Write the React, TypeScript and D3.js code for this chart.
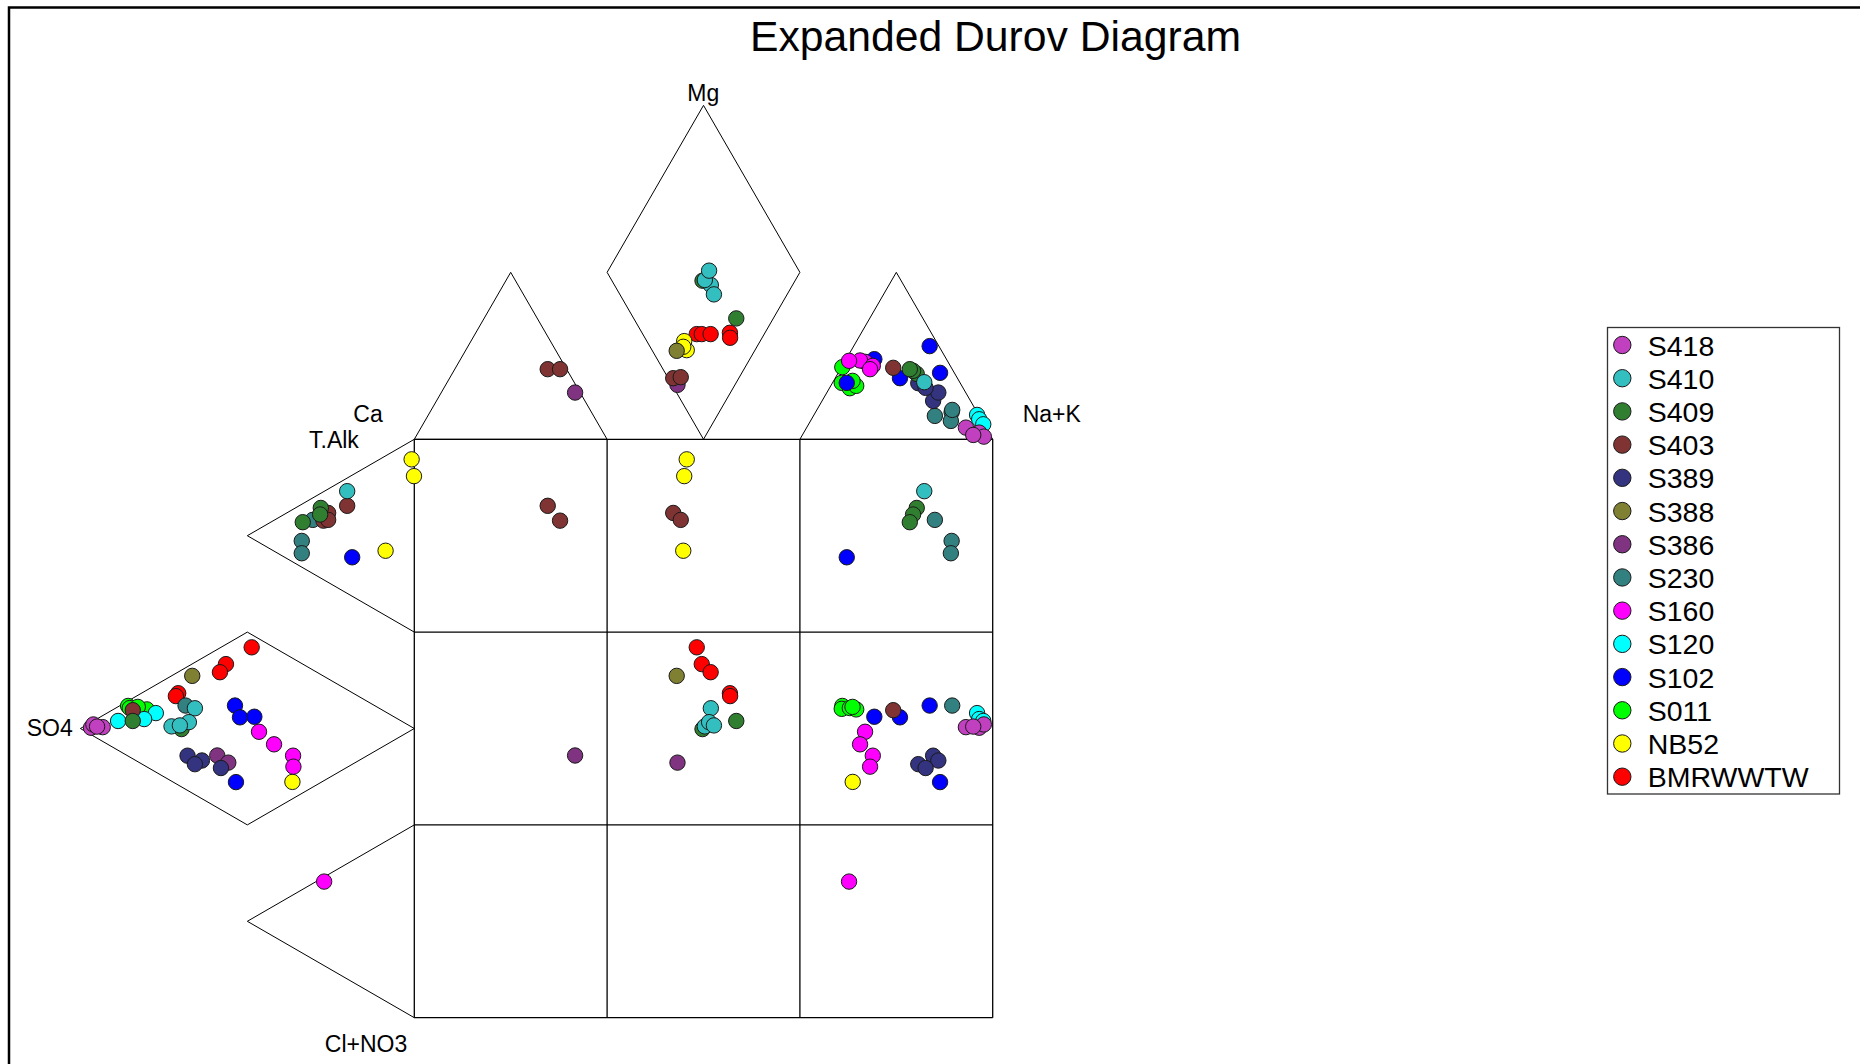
import React from "react";
import * as d3 from "d3";

// Each sample: [Ca, Mg, Na+K, T.Alk, SO4, Cl+NO3] in meq %
type Sample = [number, number, number, number, number, number];

const SERIES_NAMES = ["S418", "S410", "S409", "S403", "S389", "S388", "S386", "S230", "S160", "S120", "S102", "S011", "NB52", "BMRWWTW"];
const SERIES_COLORS = ["#C040C0", "#33BFBF", "#307F30", "#803333", "#333380", "#808033", "#803380", "#338080", "#FF00FF", "#00FFFF", "#0000FF", "#00FF00", "#FFFF00", "#FF0000"];

const S418: Sample[] = [
  [5.2, 3.5, 91.3, 3.7, 93.3, 3.0],
  [2.5, 2.0, 95.5, 1.8, 96.8, 1.4],
  [1.9, 0.8, 97.3, 3.0, 96.1, 0.9],
  [4.4, 1.3, 94.3, 3.0, 95.0, 2.0],
];
const S410: Sample[] = [
  [25.0, 46.2, 28.8, 22.4, 65.7, 11.9],
  [25.8, 47.7, 26.5, 14.2, 72.7, 13.1],
  [23.3, 50.5, 26.2, 17.9, 67.5, 14.6],
  [25.6, 43.4, 31.0, 15.7, 70.2, 14.1],
  [9.2, 17.1, 73.7, 76.5, 20.1, 3.4],
];
const S409: Sample[] = [
  [23.4, 36.2, 40.4, 9.8, 84.3, 5.9],
  [26.5, 47.5, 26.0, 15.0, 69.7, 15.3],
  [9.9, 19.6, 70.5, 68.2, 28.0, 3.8],
  [10.4, 20.5, 69.1, 66.4, 28.2, 5.4],
  [11.0, 21.0, 68.0, 61.8, 33.4, 4.8],
];
const S403: Sample[] = [
  [54.9, 21.0, 24.1, 72.7, 20.1, 7.2],
  [51.7, 21.0, 27.3, 65.3, 27.2, 7.5],
  [48.7, 18.3, 33.0, 68.0, 25.8, 6.2],
  [46.6, 18.6, 34.8, 66.2, 25.8, 8.0],
  [15.1, 21.4, 63.5, 12.6, 84.3, 3.1],
];
const S389: Sample[] = [
  [9.7, 11.5, 78.8, 9.0, 67.9, 23.1],
  [7.1, 14.0, 78.9, 9.9, 63.6, 26.5],
  [10.9, 16.8, 72.3, 7.9, 65.7, 26.4],
  [9.7, 15.4, 74.9, 10.8, 57.9, 31.3],
];
const S388: Sample[] = [
  [43.7, 26.5, 29.8, 30.4, 66.5, 3.1],
];
const S386: Sample[] = [
  [51.3, 14.0, 34.7, 13.5, 59.0, 27.5],
  [48.6, 16.3, 35.1, 13.3, 55.7, 31.0],
];
const S230: Sample[] = [
  [11.5, 7.0, 81.5, 63.9, 30.4, 5.7],
  [6.6, 8.1, 85.3, 56.8, 33.7, 9.5],
  [8.1, 5.5, 86.4, 53.6, 33.7, 12.7],
  [6.1, 8.8, 85.1, 21.7, 68.5, 9.8],
];
const S160: Sample[] = [
  [21.5, 23.2, 55.3, 25.9, 46.5, 27.6],
  [22.6, 23.6, 53.8, 24.9, 42.0, 33.1],
  [20.1, 22.0, 57.9, 24.8, 36.3, 38.9],
  [21.3, 21.0, 57.7, 22.0, 36.2, 41.8],
  [25.5, 23.5, 51.0, 21.8, 27.0, 51.2],
];
const S120: Sample[] = [
  [0.4, 7.3, 92.3, 15.3, 77.4, 7.3],
  [0.5, 6.0, 93.5, 12.0, 80.9, 7.1],
  [0.2, 4.5, 95.3, 7.6, 88.7, 3.7],
];
const S102: Sample[] = [
  [29.4, 16.9, 53.7, 60.1, 18.6, 21.3],
  [2.4, 27.9, 69.7, 29.1, 53.7, 17.2],
  [18.7, 24.0, 57.3, 29.1, 47.9, 23.0],
  [14.9, 18.3, 66.8, 26.8, 52.2, 21.0],
  [3.7, 19.9, 76.4, 9.4, 53.4, 37.2],
];
const S011: Sample[] = [
  [28.2, 21.6, 50.2, 13.0, 85.7, 1.3],
  [30.7, 16.9, 52.4, 13.0, 84.2, 2.8],
  [29.4, 15.3, 55.3, 12.7, 85.2, 2.1],
  [27.4, 16.0, 56.6, 14.9, 80.1, 5.0],
  [27.6, 17.5, 54.9, 14.2, 82.8, 3.0],
];
const NB52: Sample[] = [
  [41.0, 26.7, 32.3, 94.4, 0.8, 4.8],
  [40.3, 29.4, 30.3, 90.4, 0.1, 9.5],
  [41.4, 27.7, 30.9, 66.8, 8.6, 24.6],
  [28.0, 16.6, 55.4, 17.9, 36.5, 45.6],
];
const BMRWWTW: Sample[] = [
  [36.0, 31.5, 32.5, 46.7, 48.7, 4.6],
  [34.7, 31.5, 33.8, 38.5, 56.4, 5.1],
  [32.4, 31.5, 36.1, 35.5, 58.2, 6.3],
  [27.2, 31.9, 40.9, 23.8, 70.7, 5.5],
  [27.9, 30.4, 41.7, 22.7, 71.4, 5.9],
];

const SERIES_DATA: Sample[][] = [S418, S410, S409, S403, S389, S388, S386, S230, S160, S120, S102, S011, NB52, BMRWWTW];

const TITLE = "Expanded Durov Diagram";

// layout
const W = 1860;
const HGT = 1064;
const CELL = 192.8;
const GX0 = 414.3;
const GY0 = 439.3;
const TH = CELL * Math.sqrt(3); // full ternary triangle height
const FONT = "'Liberation Sans', Arial, Helvetica, sans-serif";

// cation ternary: x from (Na+K + Mg/2), y from Mg
const catX = d3.scaleLinear().domain([0, 100]).range([GX0 + CELL / 2, GX0 + 2.5 * CELL]);
const catY = d3.scaleLinear().domain([0, 100]).range([GY0, GY0 - TH]);
// anion ternary: x from SO4, y from (Cl + SO4/2)
const anX = d3.scaleLinear().domain([0, 100]).range([GX0, GX0 - TH]);
const anY = d3.scaleLinear().domain([0, 100]).range([GY0 + CELL / 2, GY0 + 2.5 * CELL]);

function cationXY(s: Sample): [number, number] {
  const [ca, mg, na] = s;
  let x = catX(na + mg / 2);
  if (ca > 50) x -= CELL / 2;
  else if (na > 50) x += CELL / 2;
  return [x, catY(mg)];
}
function anionXY(s: Sample): [number, number] {
  const alk = s[3], so4 = s[4], cl = s[5];
  let y = anY(cl + so4 / 2);
  if (alk > 50) y -= CELL / 2;
  else if (cl > 50) y += CELL / 2;
  return [anX(so4), y];
}

const line = d3.line<[number, number]>();

function shapes(): [number, number][][] {
  const h2 = TH / 2;
  const top: [number, number][][] = [
    [[GX0, GY0], [GX0 + CELL, GY0], [GX0 + CELL / 2, GY0 - h2], [GX0, GY0]],
    [[GX0 + CELL, GY0 - h2], [GX0 + 1.5 * CELL, GY0 - TH], [GX0 + 2 * CELL, GY0 - h2], [GX0 + 1.5 * CELL, GY0], [GX0 + CELL, GY0 - h2]],
    [[GX0 + 2 * CELL, GY0], [GX0 + 3 * CELL, GY0], [GX0 + 2.5 * CELL, GY0 - h2], [GX0 + 2 * CELL, GY0]],
  ];
  const left: [number, number][][] = [
    [[GX0, GY0], [GX0 - h2, GY0 + CELL / 2], [GX0, GY0 + CELL]],
    [[GX0 - h2, GY0 + CELL], [GX0 - TH, GY0 + 1.5 * CELL], [GX0 - h2, GY0 + 2 * CELL], [GX0, GY0 + 1.5 * CELL], [GX0 - h2, GY0 + CELL]],
    [[GX0, GY0 + 2 * CELL], [GX0 - h2, GY0 + 2.5 * CELL], [GX0, GY0 + 3 * CELL]],
  ];
  return [...top, ...left];
}

export default function App() {
  const gridLines: [number, number][][] = [];
  for (let i = 0; i <= 3; i++) {
    gridLines.push([[GX0 + i * CELL, GY0], [GX0 + i * CELL, GY0 + 3 * CELL]]);
    gridLines.push([[GX0, GY0 + i * CELL], [GX0 + 3 * CELL, GY0 + i * CELL]]);
  }
  const order = d3.range(SERIES_NAMES.length).reverse();
  const legendY = d3.scaleLinear().domain([0, SERIES_NAMES.length - 1]).range([345, 776.7]);

  return (
    <svg width={W} height={HGT} style={{ position: "absolute", left: 0, top: 0, background: "#fff" }} fontFamily={FONT}>
      <rect x={0} y={0} width={W} height={HGT} fill="#fff" />
      <path d={`M9,${HGT + 10} L9,7.5 L${W + 10},7.5`} fill="none" stroke="#000" strokeWidth={2.5} />
      <text x={995.5} y={50.7} fontSize={42.7} textAnchor="middle" fill="#000">{TITLE}</text>

      {shapes().map((p, i) => (
        <path key={"s" + i} d={line(p) || ""} fill="none" stroke="#000" strokeWidth={1} />
      ))}
      {gridLines.map((p, i) => (
        <path key={"g" + i} d={line(p) || ""} fill="none" stroke="#000" strokeWidth={1.3} />
      ))}

      <g fontSize={23} fill="#000">
        <text x={703.3} y={100.7} textAnchor="middle">Mg</text>
        <text x={1022.7} y={422.3}>Na+K</text>
        <text x={353.3} y={421.7}>Ca</text>
        <text x={309} y={448.3}>T.Alk</text>
        <text x={26.7} y={736}>SO4</text>
        <text x={366} y={1051.7} textAnchor="middle">Cl+NO3</text>
      </g>

      {order.map((si) => {
        const pts: [number, number][] = [];
        SERIES_DATA[si].forEach((s) => {
          const c = cationXY(s);
          const a = anionXY(s);
          pts.push(c, a, [c[0], a[1]]);
        });
        return (
          <g key={"ser" + si}>
            {pts.map((p, j) => (
              <circle key={j} cx={p[0]} cy={p[1]} r={7.7} fill={SERIES_COLORS[si]} stroke="#1a1a1a" strokeWidth={1} />
            ))}
          </g>
        );
      })}

      <rect x={1607.5} y={327.5} width={232} height={466.5} fill="#fff" stroke="#333" strokeWidth={1.3} />
      {SERIES_NAMES.map((n, i) => (
        <g key={"lg" + i}>
          <circle cx={1622.3} cy={legendY(i)} r={8.7} fill={SERIES_COLORS[i]} stroke="#1a1a1a" strokeWidth={1} />
          <text x={1647.7} y={legendY(i) + 10.5} fontSize={28.5} fill="#000">{n}</text>
        </g>
      ))}
    </svg>
  );
}
